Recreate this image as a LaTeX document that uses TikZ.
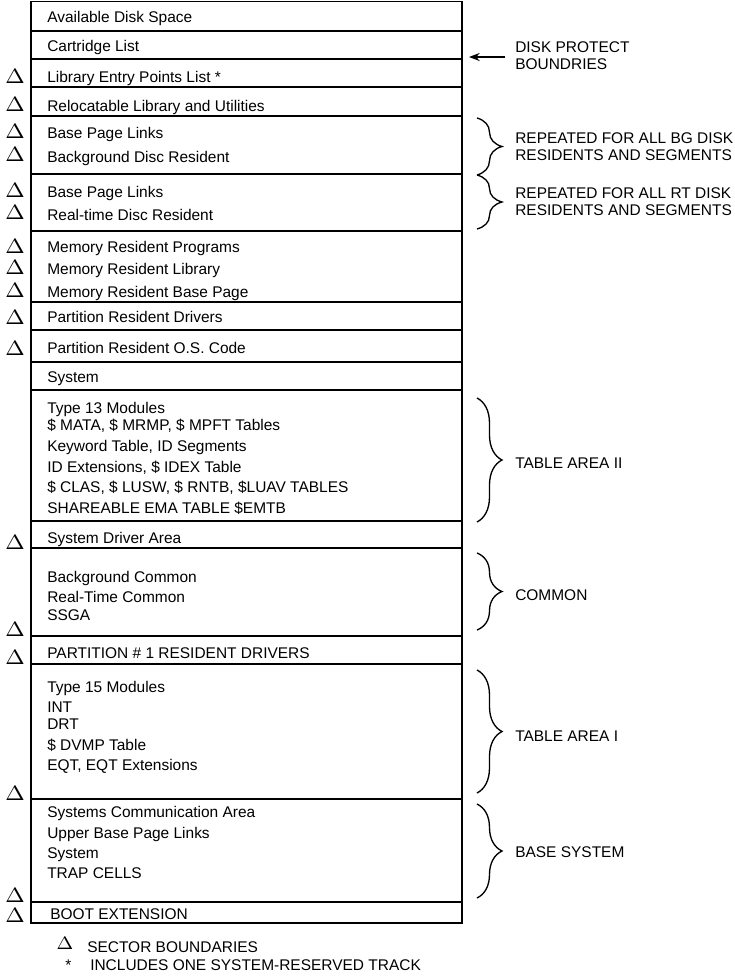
\documentclass[tikz,border=0pt]{standalone}
\usepackage{fontspec}
\setmainfont{Liberation Sans}
\usetikzlibrary{arrows.meta,decorations.pathreplacing}

\tikzset{
  rowtext/.style={anchor=base west, inner sep=0pt, font=\fontsize{11.6}{13}\selectfont},
  sectmark/.style={inner sep=0pt, font=\fontsize{10}{12}\selectfont},
  note/.style={anchor=west, inner sep=0pt, align=left, font=\fontsize{11.6}{12.75}\selectfont},
  boxline/.style={line width=1.4pt},
  curly/.style={decorate, decoration={brace, amplitude=18.75pt}, line width=1pt},
}
\newcommand{\sectdelta}{\scalebox{1.75}[1.55]{$\Delta$}}

\begin{document}
\begin{tikzpicture}[x=0.75pt, y=-0.75pt]
    \useasboundingbox (0,0) rectangle (735,979);

    % --- memory box ---
    \draw[boxline] (31,1.5) rectangle (462,923);
    \draw[boxline] (31,31) -- (462,31) (31,59) -- (462,59) (31,87) -- (462,87)
        (31,116) -- (462,116) (31,174) -- (462,174) (31,231) -- (462,231)
        (31,302) -- (462,302) (31,330) -- (462,330) (31,362) -- (462,362)
        (31,390) -- (462,390) (31,521) -- (462,521) (31,548) -- (462,548)
        (31,636) -- (462,636) (31,664) -- (462,664) (31,799) -- (462,799)
        (31,902) -- (462,902);

    % --- rows ---
    \node[rowtext] (avail) at (47,22.5) {Available Disk Space};
    \node[rowtext] (cart) at (47,51.5) {Cartridge List};
    \node[rowtext] (libep) at (47,82.5) {Library Entry Points List *};
    \node[rowtext] (reloc) at (47,111.5) {Relocatable Library and Utilities};
    \node[rowtext] (bplA) at (47,138.5) {Base Page Links};
    \node[rowtext] (bgdr) at (47,162.5) {Background Disc Resident};
    \node[rowtext] (bplB) at (47,197.5) {Base Page Links};
    \node[rowtext] (rtdr) at (47,220.5) {Real-time Disc Resident};
    \node[rowtext] (mrp) at (47,252.5) {Memory Resident Programs};
    \node[rowtext] (mrl) at (47,274.5) {Memory Resident Library};
    \node[rowtext] (mrbp) at (47,297.5) {Memory Resident Base Page};
    \node[rowtext] (prd) at (47,322.5) {Partition Resident Drivers};
    \node[rowtext] (pros) at (47,353.5) {Partition Resident O.S. Code};
    \node[rowtext] (sysA) at (47,382.5) {System};
    \node[rowtext] (tA) at (47,413.5) {Type 13 Modules};
    \node[rowtext] (tB) at (47,430.5) {\$ MATA, \$ MRMP, \$ MPFT Tables};
    \node[rowtext] (tC) at (47,451.5) {Keyword Table, ID Segments};
    \node[rowtext] (tD) at (47,472.5) {ID Extensions, \$ IDEX Table};
    \node[rowtext] (tE) at (47,492.5) {\$ CLAS, \$ LUSW, \$ RNTB, \$LUAV TABLES};
    \node[rowtext] (tF) at (47,513.5) {SHAREABLE EMA TABLE \$EMTB};
    \node[rowtext] (sda) at (47,543.5) {System Driver Area};
    \node[rowtext] (bgc) at (47,582.5) {Background Common};
    \node[rowtext] (rtc) at (47,602.5) {Real-Time Common};
    \node[rowtext] (ssga) at (47,620.5) {SSGA};
    \node[rowtext] (pone) at (47,658.5) {PARTITION \# 1 RESIDENT DRIVERS};
    \node[rowtext] (uA) at (47,692.5) {Type 15 Modules};
    \node[rowtext] (uB) at (47,712.5) {INT};
    \node[rowtext] (uC) at (47,729.5) {DRT};
    \node[rowtext] (uD) at (47,750.5) {\$ DVMP Table};
    \node[rowtext] (uE) at (47,770.5) {EQT, EQT Extensions};
    \node[rowtext] (sca) at (47,817.5) {Systems Communication Area};
    \node[rowtext] (ubpl) at (47,838.5) {Upper Base Page Links};
    \node[rowtext] (sysB) at (47,858.5) {System};
    \node[rowtext] (trap) at (47,878.5) {TRAP CELLS};
    \node[rowtext] (boot) at (50,919.5) {BOOT EXTENSION};

    % --- sector boundaries ---
    \node[sectmark] (sb1) at (15,76) {\sectdelta};
    \node[sectmark] (sb2) at (15,104) {\sectdelta};
    \node[sectmark] (sb3) at (15,131) {\sectdelta};
    \node[sectmark] (sb4) at (15,154) {\sectdelta};
    \node[sectmark] (sb5) at (15,190) {\sectdelta};
    \node[sectmark] (sb6) at (15,212) {\sectdelta};
    \node[sectmark] (sb7) at (15,246) {\sectdelta};
    \node[sectmark] (sb8) at (15,267) {\sectdelta};
    \node[sectmark] (sb9) at (15,290) {\sectdelta};
    \node[sectmark] (sb10) at (15,317) {\sectdelta};
    \node[sectmark] (sb11) at (15,348) {\sectdelta};
    \node[sectmark] (sb12) at (15,542) {\sectdelta};
    \node[sectmark] (sb13) at (15,629) {\sectdelta};
    \node[sectmark] (sb14) at (15,657) {\sectdelta};
    \node[sectmark] (sb15) at (15,793) {\sectdelta};
    \node[sectmark] (sb16) at (15,895) {\sectdelta};
    \node[sectmark] (sb17) at (15,915) {\sectdelta};

    % --- disk protect ---
    \node[note] (dp) at (515,55.5) {DISK PROTECT\\BOUNDRIES};
    \coordinate (dptip) at (469,57);
    \draw[-{Stealth[length=8pt,width=6pt]}, line width=1.2pt, shorten <=7.5pt] (dp.west |- dptip) -- (dptip);

    % --- braces ---
    \draw[curly] (477,118) -- (477,175);
    \node[note] (bg) at (515,147) {REPEATED FOR ALL BG DISK\\RESIDENTS AND SEGMENTS};
    \draw[curly] (477,175) -- (477,229);
    \node[note] (rt) at (515,202) {REPEATED FOR ALL RT DISK\\RESIDENTS AND SEGMENTS};
    \draw[curly] (477,398) -- (477,522);
    \node[note] (taII) at (515,463) {TABLE AREA II};
    \draw[curly] (477,553) -- (477,630);
    \node[note] (com) at (515,595) {COMMON};
    \draw[curly] (477,670) -- (477,793);
    \node[note] (taI) at (515,736) {TABLE AREA I};
    \draw[curly] (477,804) -- (477,898);
    \node[note] (bsys) at (515,852) {BASE SYSTEM};

    % --- legend ---
    \node[sectmark] (lgd) at (65,943) {\scalebox{1.5}[1.35]{$\Delta$}};
    \node[rowtext] (lgdtext) at (87,952.5) {SECTOR BOUNDARIES};
    \node[rowtext] (lgstar) at (65,970.5) {*};
    \node[rowtext] (lgstartext) at (90,970.5) {INCLUDES ONE SYSTEM-RESERVED TRACK};
\end{tikzpicture}
\end{document}
